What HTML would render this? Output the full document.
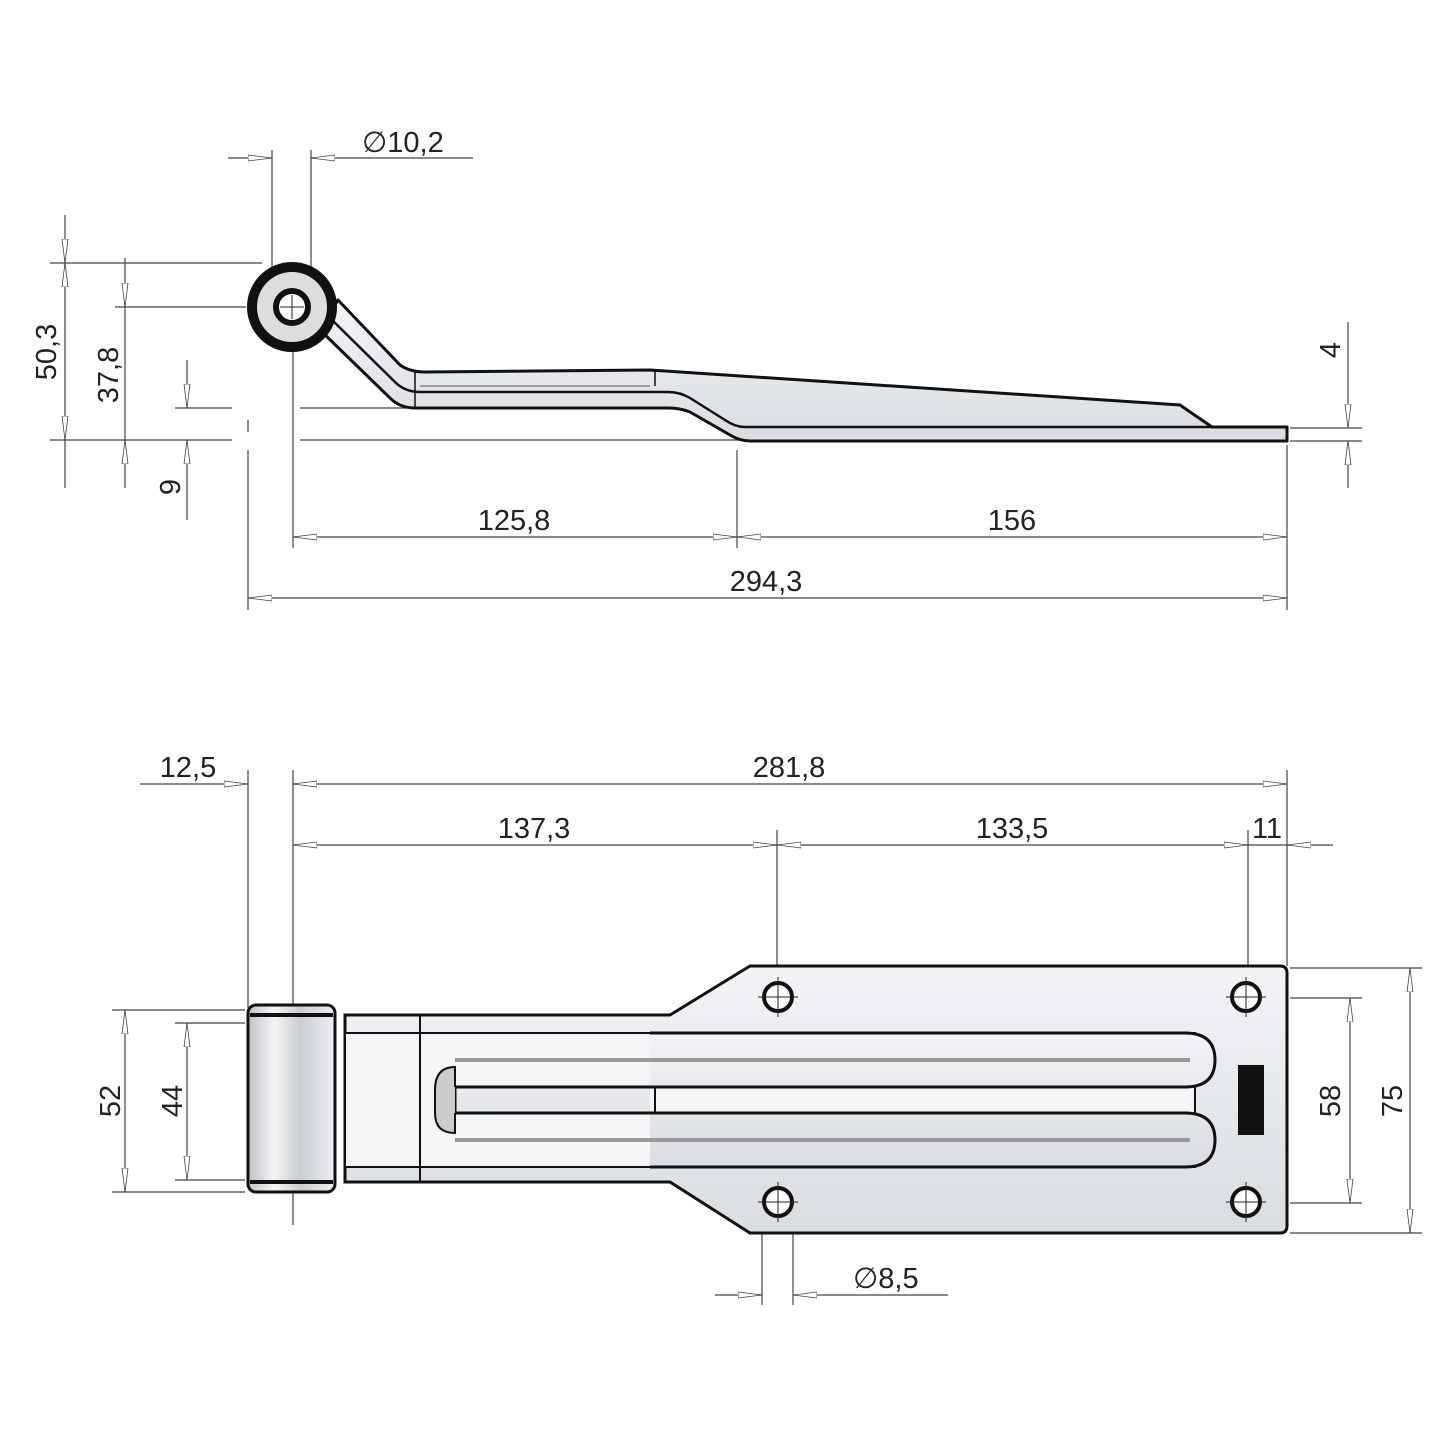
<!DOCTYPE html>
<html><head><meta charset="utf-8"><style>body{margin:0;background:#fff}svg{display:block}text{font-family:"Liberation Sans",sans-serif;font-size:29px;fill:#222}</style></head><body>
<svg width="1445" height="1445" viewBox="0 0 1445 1445" xmlns="http://www.w3.org/2000/svg">
<defs>
<marker id="a" viewBox="0 0 24 8" refX="24" refY="4" markerWidth="24" markerHeight="8" markerUnits="userSpaceOnUse" orient="auto-start-reverse"><path d="M0,1 L24,4 L0,7 Z" fill="#fff" stroke="#444" stroke-width="0.8"/></marker>
<linearGradient id="g" x1="0" y1="0" x2="0" y2="1"><stop offset="0" stop-color="#f2f4f6"/><stop offset="1" stop-color="#d9dde1"/></linearGradient>
<linearGradient id="bar" x1="0" y1="0" x2="1" y2="0"><stop offset="0" stop-color="#bfc3c7"/><stop offset=".3" stop-color="#f4f5f6"/><stop offset=".6" stop-color="#c9cdd1"/><stop offset="1" stop-color="#eef0f2"/></linearGradient>
</defs>
<g stroke="#444" stroke-width="1.2" fill="none">
<!-- top view extension lines -->
<line x1="50" y1="263" x2="262" y2="263"/><line x1="115" y1="307" x2="246" y2="307"/>
<line x1="175" y1="408" x2="232" y2="408"/><line x1="300" y1="408" x2="420" y2="408"/>
<line x1="50" y1="440" x2="232" y2="440"/><line x1="300" y1="440" x2="745" y2="440"/>
<line x1="248" y1="420" x2="248" y2="432"/><line x1="248" y1="450" x2="248" y2="610"/>
<line x1="272" y1="150" x2="272" y2="290"/><line x1="311" y1="150" x2="311" y2="290"/>
<line x1="293" y1="340" x2="293" y2="548"/><line x1="737" y1="450" x2="737" y2="548"/>
<line x1="1287" y1="445" x2="1287" y2="610"/>
<line x1="1290" y1="428" x2="1362" y2="428"/><line x1="1290" y1="441" x2="1362" y2="441"/>
<!-- top dims -->
<line x1="65" y1="215" x2="65" y2="263" marker-end="url(#a)"/><line x1="65" y1="263" x2="65" y2="440" marker-start="url(#a)" marker-end="url(#a)"/><line x1="65" y1="440" x2="65" y2="488"/>
<line x1="125" y1="258" x2="125" y2="307" marker-end="url(#a)"/><line x1="125" y1="307" x2="125" y2="440"/><line x1="125" y1="488" x2="125" y2="440" marker-end="url(#a)"/>
<line x1="187" y1="360" x2="187" y2="408" marker-end="url(#a)"/><line x1="187" y1="520" x2="187" y2="440" marker-end="url(#a)"/>
<line x1="228" y1="158" x2="272" y2="158" marker-end="url(#a)"/><line x1="473" y1="158" x2="311" y2="158" marker-end="url(#a)"/>
<line x1="1348" y1="322" x2="1348" y2="428" marker-end="url(#a)"/><line x1="1348" y1="488" x2="1348" y2="441" marker-end="url(#a)"/>
<line x1="293" y1="537" x2="737" y2="537" marker-start="url(#a)" marker-end="url(#a)"/>
<line x1="737" y1="537" x2="1287" y2="537" marker-start="url(#a)" marker-end="url(#a)"/>
<line x1="248" y1="598" x2="1287" y2="598" marker-start="url(#a)" marker-end="url(#a)"/>
</g>
<!-- side part -->
<g stroke="#111" stroke-width="3" stroke-linejoin="round">
<path d="M1287,427 L1287,441 L750,441 Q740,441 730,435 L690,412 Q680,408 668,408 L415,408 Q400,408 390,398 L320,330 L338,300 L400,365 Q410,372 425,372 L650,370 L1180,405 L1212,427 Z" fill="url(#g)"/>
<path d="M1212,427 L745,427 Q735,427 725,420 L690,398 Q680,392 668,392 L420,392 Q405,392 395,382 L330,318" fill="none" stroke-width="2.5"/>
<line x1="420" y1="386" x2="650" y2="386" stroke-width="1.5" stroke="#888"/>
<line x1="655" y1="371" x2="655" y2="386" stroke-width="1.5"/>
<line x1="415" y1="372" x2="415" y2="408" stroke-width="1.5"/>
<circle cx="292" cy="307" r="40" fill="#ddd" stroke-width="10"/>
<circle cx="292" cy="307" r="16" fill="#fff" stroke-width="6"/>
</g>
<g stroke="#222" stroke-width="1"><line x1="280" y1="307" x2="304" y2="307"/><line x1="292" y1="295" x2="292" y2="319"/></g>
<!-- bottom view lines -->
<g stroke="#444" stroke-width="1.2" fill="none">
<line x1="248" y1="770" x2="248" y2="1008"/><line x1="293" y1="770" x2="293" y2="1225"/>
<line x1="777" y1="830" x2="777" y2="966"/><line x1="1248" y1="830" x2="1248" y2="966"/><line x1="1287" y1="770" x2="1287" y2="966"/>
<line x1="140" y1="784" x2="248" y2="784" marker-end="url(#a)"/>
<line x1="293" y1="784" x2="1287" y2="784" marker-start="url(#a)" marker-end="url(#a)"/>
<line x1="293" y1="845" x2="777" y2="845" marker-start="url(#a)" marker-end="url(#a)"/>
<line x1="777" y1="845" x2="1248" y2="845" marker-start="url(#a)" marker-end="url(#a)"/>
<line x1="1248" y1="845" x2="1287" y2="845"/><line x1="1333" y1="845" x2="1287" y2="845" marker-end="url(#a)"/>
<line x1="112" y1="1010" x2="245" y2="1010"/><line x1="112" y1="1192" x2="245" y2="1192"/>
<line x1="175" y1="1023" x2="245" y2="1023"/><line x1="175" y1="1180" x2="245" y2="1180"/>
<line x1="125" y1="1010" x2="125" y2="1192" marker-start="url(#a)" marker-end="url(#a)"/>
<line x1="187" y1="1023" x2="187" y2="1180" marker-start="url(#a)" marker-end="url(#a)"/>
<line x1="1290" y1="998" x2="1362" y2="998"/><line x1="1290" y1="1203" x2="1362" y2="1203"/>
<line x1="1290" y1="968" x2="1422" y2="968"/><line x1="1290" y1="1233" x2="1422" y2="1233"/>
<line x1="1350" y1="998" x2="1350" y2="1203" marker-start="url(#a)" marker-end="url(#a)"/>
<line x1="1410" y1="968" x2="1410" y2="1233" marker-start="url(#a)" marker-end="url(#a)"/>
<line x1="762" y1="1210" x2="762" y2="1305"/><line x1="793" y1="1210" x2="793" y2="1305"/>
<line x1="715" y1="1295" x2="762" y2="1295" marker-end="url(#a)"/><line x1="948" y1="1295" x2="793" y2="1295" marker-end="url(#a)"/>
</g>
<!-- bottom part -->
<g stroke="#111" stroke-width="3">
<path d="M345,1015 L670,1015 L750,966 L1280,966 Q1287,966 1287,973 L1287,1226 Q1287,1233 1280,1233 L750,1233 L670,1182 L345,1182 Z" fill="url(#g)"/>
<rect x="345" y="1033" width="850" height="134" fill="#f4f5f6" stroke-width="2"/>
<path d="M420,1015 L420,1182 M655,1033 L655,1167" stroke-width="2"/>
<path d="M650,1033 L1185,1033 Q1215,1033 1215,1060 Q1215,1087 1185,1087 L650,1087 L455,1087 L455,1113 L1185,1113 Q1215,1113 1215,1140 Q1215,1167 1185,1167 L650,1167" fill="url(#g)" stroke-width="3"/>
<path d="M455,1087 L455,1067 Q435,1067 435,1090 L435,1113 Q435,1133 455,1133 L455,1113" fill="#ccc" stroke-width="2"/>
<line x1="455" y1="1060" x2="1190" y2="1060" stroke="#999" stroke-width="4"/>
<line x1="455" y1="1140" x2="1190" y2="1140" stroke="#999" stroke-width="4"/>
<rect x="248" y="1005" width="87" height="187" rx="8" fill="url(#bar)"/>
<line x1="250" y1="1015" x2="333" y2="1015" stroke-width="4"/><line x1="250" y1="1182" x2="333" y2="1182" stroke-width="4"/>
<rect x="1238" y="1065" width="26" height="70" fill="#111" stroke="none"/>
</g>
<g stroke="#111" stroke-width="4" fill="#fff">
<circle cx="778" cy="997" r="14"/><circle cx="1246" cy="997" r="14"/><circle cx="778" cy="1202" r="14"/><circle cx="1246" cy="1202" r="14"/>
</g>
<g stroke="#222" stroke-width="1">
<path d="M758,997h40M778,977v40M1226,997h40M1246,977v40M758,1202h40M778,1182v40M1226,1202h40M1246,1182v40"/>
</g>
<!-- text -->
<text x="362" y="152">∅10,2</text>
<text transform="translate(56,352) rotate(-90)" text-anchor="middle">50,3</text>
<text transform="translate(118,375) rotate(-90)" text-anchor="middle">37,8</text>
<text transform="translate(180,487) rotate(-90)" text-anchor="middle">9</text>
<text transform="translate(1340,350) rotate(-90)" text-anchor="middle">4</text>
<text x="514" y="530" text-anchor="middle">125,8</text>
<text x="1012" y="530" text-anchor="middle">156</text>
<text x="766" y="591" text-anchor="middle">294,3</text>
<text x="188" y="777" text-anchor="middle">12,5</text>
<text x="789" y="777" text-anchor="middle">281,8</text>
<text x="534" y="838" text-anchor="middle">137,3</text>
<text x="1012" y="838" text-anchor="middle">133,5</text>
<text x="1267" y="838" text-anchor="middle">11</text>
<text transform="translate(120,1101) rotate(-90)" text-anchor="middle">52</text>
<text transform="translate(182,1101) rotate(-90)" text-anchor="middle">44</text>
<text transform="translate(1340,1101) rotate(-90)" text-anchor="middle">58</text>
<text transform="translate(1402,1101) rotate(-90)" text-anchor="middle">75</text>
<text x="853" y="1288">∅8,5</text>
</svg>
</body></html>
